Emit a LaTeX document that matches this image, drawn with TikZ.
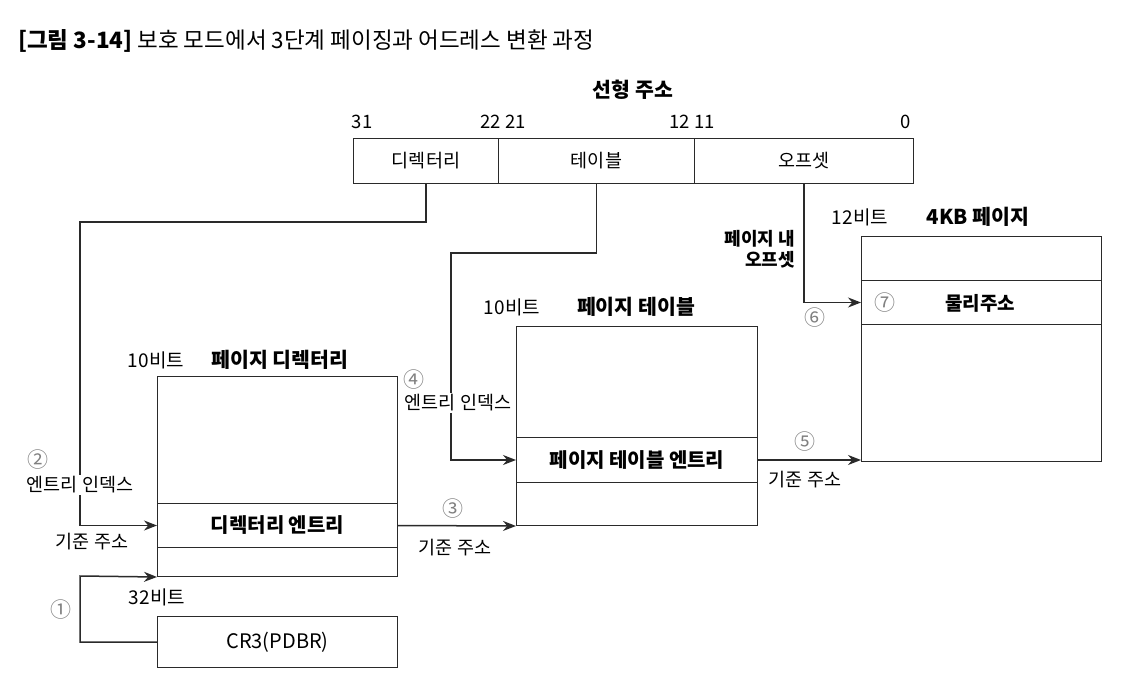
\documentclass[tikz,border=0pt]{standalone}
\usepackage{fontspec}
\setmainfont{Noto Sans CJK KR}
\usetikzlibrary{arrows.meta,calc}
\definecolor{ln}{HTML}{2A2A2A}
\definecolor{cn}{HTML}{808080}
\tikzset{
  bx/.style={draw=ln, line width=1pt, anchor=north west, inner sep=0pt},
  lbl/.style={inner sep=0pt, text=black, font=\fontsize{18.5}{21}\selectfont},
  bits/.style={inner sep=0pt, text=black, font=\fontsize{19}{21}\selectfont},
  hd/.style={inner sep=0pt, text=black, font=\fontsize{20.5}{23}\selectfont\bfseries},
  ent/.style={font=\fontsize{20}{22}\selectfont\bfseries},
  cnum/.style={inner sep=0pt, text=cn, font=\fontsize{21}{23}\selectfont},
  conn/.style={draw=ln, line width=1.5pt, -{Stealth[length=13pt,width=10pt]}},
  wb/.style={fill=white, inner sep=2pt}
}
\begin{document}
\begin{tikzpicture}[x=1pt,y=1pt]
\useasboundingbox[fill=white] (0,0) rectangle (1124,-684);
% title
\node[anchor=west, inner sep=0pt, font=\fontsize{22.5}{25}\selectfont] (title) at (18,-41) {{\bfseries [그림 3-14]} 보호 모드에서 3단계 페이징과 어드레스 변환 과정};
% linear address
\node[hd] (latitle) at (633,-90) {선형 주소};
\node[lbl] (b31) at (362,-122) {31};
\node[lbl] (b22) at (503,-122) {22 21};
\node[lbl] (b12) at (692,-122) {12 11};
\node[lbl] (b0) at (906,-122) {0};
\node[bx, minimum width=145pt, minimum height=45pt] (la1) at (353,-138) {};
\node[bx, minimum width=196pt, minimum height=45pt] (la2) at (498,-138) {};
\node[bx, minimum width=219pt, minimum height=45pt] (la3) at (694,-138) {};
\node[lbl] (la1t) at (la1.center) {디렉터리};
\node[lbl] (la2t) at (la2.center) {테이블};
\node[lbl] (la3t) at (la3.center) {오프셋};
% page directory
\node[bits] (pdbits) at (156,-360) {10비트};
\node[hd] (pdtitle) at (280,-360) {페이지 디렉터리};
\node[bx, minimum width=240pt, minimum height=200pt] (pd) at (157,-376) {};
\node[bx, minimum width=240pt, minimum height=44pt, ent] (pde) at (157,-503) {디렉터리 엔트리};
% CR3
\node[bits] (crbits) at (157,-597) {32비트};
\node[bx, minimum width=240pt, minimum height=51pt, font=\fontsize{20}{22}\selectfont] (cr3) at (157,-616) {CR3(PDBR)};
% page table
\node[bits] (ptbits) at (512,-307) {10비트};
\node[hd] (pttitle) at (636,-307) {페이지 테이블};
\node[bx, minimum width=241pt, minimum height=199pt] (pt) at (516,-326) {};
\node[bx, minimum width=241pt, minimum height=45pt, ent] (pte) at (516,-437) {페이지 테이블 엔트리};
% page
\node[bits] (pgbits) at (860,-217) {12비트};
\node[hd] (pgtitle) at (978,-217) {4KB 페이지};
\node[bx, minimum width=240pt, minimum height=225pt] (pg) at (861,-236) {};
\node[bx, minimum width=240pt, minimum height=44pt] (pa) at (861,-280) {};
\node[hd, font=\fontsize{19}{21}\selectfont\bfseries] (patext) at (980,-303) {물리주소};
\node[cnum] (n7) at (885,-303) {⑦};
% coordinates
\coordinate (k2) at (80,-222);
\coordinate (k1) at (80,-576);
\coordinate (k4) at (451,-253);
% connectors
\draw[conn] (cr3.west) -| (k1) -- (pd.south west);
\draw[conn] (la1.south) |- (k2) |- (pde.west);
\draw[conn] (pde.east) -- (pt.south west);
\draw[conn] (la2.south) |- (k4) |- (pte.west);
\draw[conn] (pte.east) -- (pte.east -| pg.west);
\draw[conn] (la3.south) |- (pa.west);
% labels on connectors
\node[cnum] (n1) at (61,-610) {①};
\node[cnum] (n2) at (38,-460) {②};
\node[lbl, wb] (ei2) at (80,-485) {엔트리 인덱스};
\node[lbl] (ba2) at (92,-542) {기준 주소};
\node[cnum] (n3) at (453,-509) {③};
\node[lbl] (ba3) at (455,-548) {기준 주소};
\node[cnum] (n4) at (414,-380) {④};
\node[lbl, wb] (ei4) at (458,-403) {엔트리 인덱스};
\node[cnum] (n5) at (805,-442) {⑤};
\node[lbl] (ba5) at (805,-480) {기준 주소};
\node[cnum] (n6) at (815,-318) {⑥};
\node[lbl, anchor=east, font=\fontsize{18}{20}\selectfont\bfseries] (off1) at (795,-239) {페이지 내};
\node[lbl, anchor=east, font=\fontsize{18}{20}\selectfont\bfseries] (off2) at (795,-260) {오프셋};
\end{tikzpicture}
\end{document}
